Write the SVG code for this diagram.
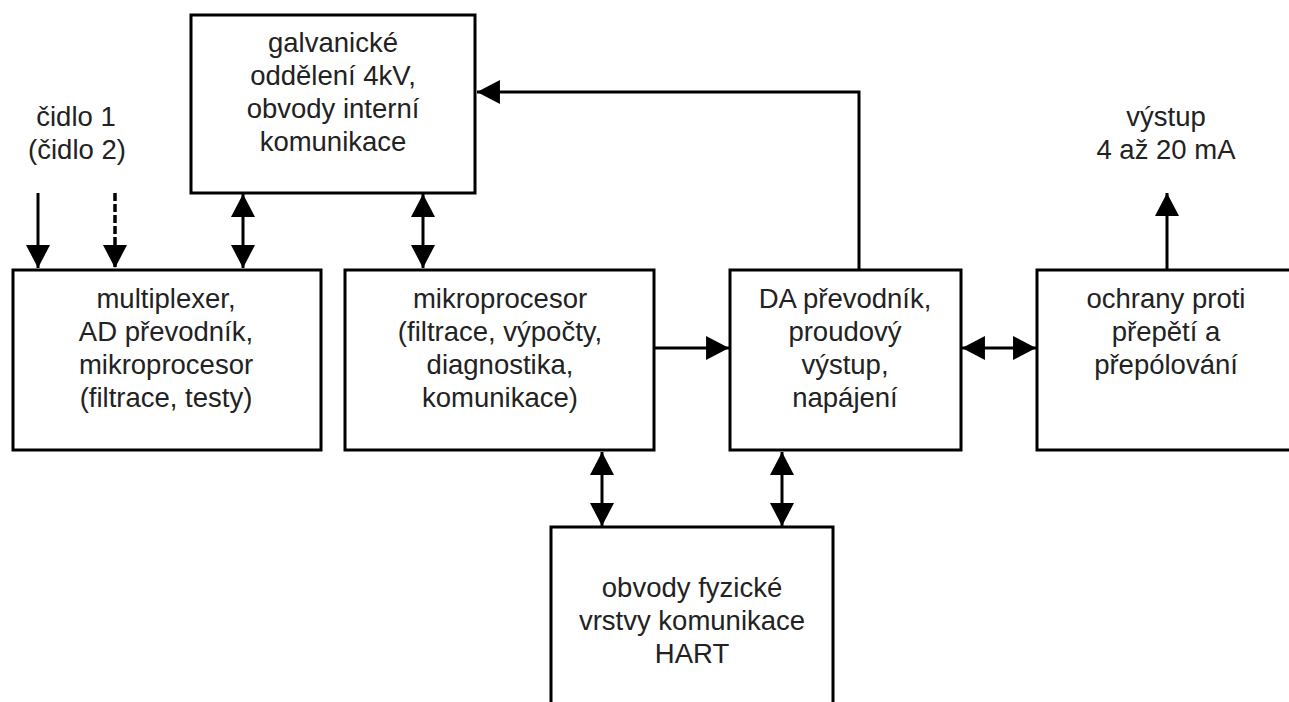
<svg xmlns="http://www.w3.org/2000/svg" width="1289" height="702" viewBox="0 0 1289 702">
<defs>
<style>
.box{fill:#fff;stroke:#000;stroke-width:3}
.t{font-family:"Liberation Sans",Arial,sans-serif;font-size:27.5px;fill:#222;text-anchor:middle}
.c{fill:none;stroke:#000;stroke-width:3}
.d{stroke-dasharray:8,3;stroke-width:3.5}
</style>
<marker id="ah" markerUnits="userSpaceOnUse" markerWidth="24" markerHeight="24" refX="22" refY="11.5" orient="auto-start-reverse" viewBox="0 0 22 23">
<path d="M0,0 L22,11.5 L0,23 Z" fill="#000"/>
</marker>
</defs>
<rect width="1289" height="702" fill="#fff"/>
<g id="connectors">
<line class="c" x1="38" y1="193" x2="38" y2="268" marker-end="url(#ah)"/>
<line class="c d" x1="115" y1="193" x2="115" y2="268" marker-end="url(#ah)"/>
<line class="c" x1="243" y1="194" x2="243" y2="268" marker-start="url(#ah)" marker-end="url(#ah)"/>
<line class="c" x1="423" y1="194" x2="423" y2="268" marker-start="url(#ah)" marker-end="url(#ah)"/>
<line class="c" x1="654" y1="348" x2="729" y2="348" marker-end="url(#ah)"/>
<polyline class="c" points="859,270 859,92 477,92" marker-end="url(#ah)"/>
<line class="c" x1="962" y1="348" x2="1036" y2="348" marker-start="url(#ah)" marker-end="url(#ah)"/>
<line class="c" x1="1167" y1="270" x2="1167" y2="193" marker-end="url(#ah)"/>
<line class="c" x1="602" y1="452" x2="602" y2="526" marker-start="url(#ah)" marker-end="url(#ah)"/>
<line class="c" x1="782" y1="452" x2="782" y2="526" marker-start="url(#ah)" marker-end="url(#ah)"/>
</g>
<g id="labels">
<text class="t" x="76" y="126">čidlo 1</text>
<text class="t" x="77" y="159">(čidlo 2)</text>
<text class="t" x="1166" y="126">výstup</text>
<text class="t" x="1166" y="159">4 až 20 mA</text>
</g>
<g id="galvanicke">
<rect class="box" x="191" y="15" width="284" height="178"/>
<text class="t" x="333" y="52">galvanické</text>
<text class="t" x="333" y="85">oddělení 4kV,</text>
<text class="t" x="333" y="118">obvody interní</text>
<text class="t" x="333" y="151">komunikace</text>
</g>
<g id="multiplexer">
<rect class="box" x="13" y="270" width="308" height="180"/>
<text class="t" x="166" y="308">multiplexer,</text>
<text class="t" x="166" y="341">AD převodník,</text>
<text class="t" x="166" y="374">mikroprocesor</text>
<text class="t" x="166" y="407">(filtrace, testy)</text>
</g>
<g id="mikroprocesor">
<rect class="box" x="345" y="270" width="309" height="180"/>
<text class="t" x="500" y="308">mikroprocesor</text>
<text class="t" x="500" y="341">(filtrace, výpočty,</text>
<text class="t" x="500" y="374">diagnostika,</text>
<text class="t" x="500" y="407">komunikace)</text>
</g>
<g id="da">
<rect class="box" x="730" y="270" width="231" height="180"/>
<text class="t" x="845" y="308">DA převodník,</text>
<text class="t" x="845" y="341">proudový</text>
<text class="t" x="845" y="374">výstup,</text>
<text class="t" x="845" y="407">napájení</text>
</g>
<g id="ochrany">
<rect class="box" x="1037" y="270" width="260" height="180"/>
<text class="t" x="1166" y="308">ochrany proti</text>
<text class="t" x="1166" y="341">přepětí a</text>
<text class="t" x="1166" y="374">přepólování</text>
</g>
<g id="hart">
<rect class="box" x="551" y="527" width="282" height="190"/>
<text class="t" x="692" y="597">obvody fyzické</text>
<text class="t" x="692" y="630">vrstvy komunikace</text>
<text class="t" x="692" y="663">HART</text>
</g>
</svg>
